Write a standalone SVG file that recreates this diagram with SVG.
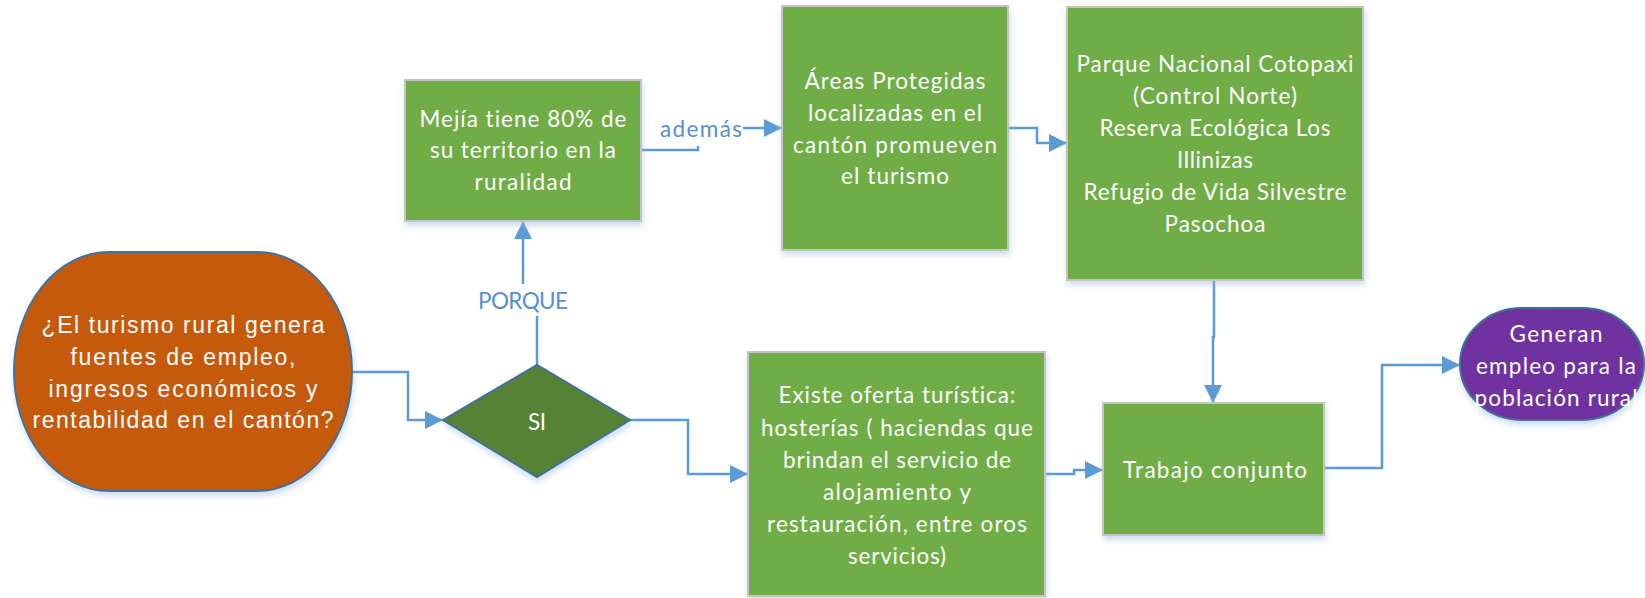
<svg xmlns="http://www.w3.org/2000/svg" width="1645" height="598" viewBox="0 0 1645 598">
  <style>
    .box { fill: #70AD47; stroke: #C4C4C4; stroke-width: 2; }
    .oval { fill: #C55A11; stroke: #41719C; stroke-width: 2; }
    .dia { fill: #548235; stroke: #41719C; stroke-width: 2; }
    .purp { fill: #7030A0; stroke: #41719C; stroke-width: 2; }
    .t { font-family: Lato, "Open Sans", sans-serif; font-size: 22.5px; fill: #FFFFFF; text-anchor: middle; font-variant-ligatures: none; }
    .ta { font-family: "Liberation Sans", Arial, sans-serif; font-size: 23px; fill: #FFFFFF; text-anchor: middle; }
    .lbl { font-family: Lato, "Open Sans", sans-serif; font-size: 22.5px; fill: #5590D0; text-anchor: middle; font-variant-ligatures: none; }
    .conn { fill: none; stroke: #5B9BD5; stroke-width: 2.5; marker-end: url(#arr); }
    .shadow { filter: url(#sh); }
  </style>
  <defs>
    <marker id="arr" viewBox="0 0 18 18" refX="18" refY="9" markerWidth="18" markerHeight="18" markerUnits="userSpaceOnUse" orient="auto">
      <path d="M0,0 L18,9 L0,18 z" fill="#5B9BD5"/>
    </marker>
    <filter id="sh" x="-10%" y="-10%" width="125%" height="125%">
      <feDropShadow dx="1" dy="4" stdDeviation="3" flood-color="#9DB9E0" flood-opacity="0.5"/>
    </filter>
  </defs>
  <rect width="1645" height="598" fill="#FFFFFF"/>

  <g id="connectors">
    <path class="conn" d="M352,372 H408 V420 H443"/>
    <path class="conn" d="M537,365 V300 H523 V221"/>
    <path class="conn" d="M641,150 H698 V128 H782"/>
    <path class="conn" d="M1008,128 H1037 V143 H1067"/>
    <path class="conn" d="M1214,280 V337 H1213 V403"/>
    <path class="conn" d="M630,420 H688 V474 H748"/>
    <path class="conn" d="M1045,474 H1074 V470 H1103"/>
    <path class="conn" d="M1324,468 H1382 V365 H1460"/>
    <g id="label-porque">
      <rect x="474" y="284" width="98" height="32" fill="#FFFFFF"/>
      <text class="lbl" x="523" y="309" textLength="90" lengthAdjust="spacing">PORQUE</text>
    </g>
    <g id="label-ademas">
      <rect x="657" y="117" width="86" height="29" fill="#FFFFFF"/>
      <text class="lbl" x="701" y="137" textLength="82" lengthAdjust="spacing">además</text>
    </g>
  </g>

  <g id="pregunta">
    <rect class="oval shadow" x="14" y="252" width="338" height="239" rx="95" ry="119.5"/>
    <text class="ta" x="183" y="333" textLength="283" lengthAdjust="spacing">¿El turismo rural genera</text>
    <text class="ta" x="183" y="365" textLength="225" lengthAdjust="spacing">fuentes de empleo,</text>
    <text class="ta" x="183" y="397" textLength="269" lengthAdjust="spacing">ingresos económicos y</text>
    <text class="ta" x="183" y="428" textLength="301" lengthAdjust="spacing">rentabilidad en el cantón?</text>
  </g>

  <g id="si">
    <polygon class="dia shadow" points="443,420 537,365 630,420 537,477"/>
    <text class="t" x="537" y="430" textLength="18" lengthAdjust="spacing">SI</text>
  </g>

  <g id="mejia">
    <rect class="box shadow" x="405" y="80" width="236" height="141"/>
    <text class="t" x="523" y="127" textLength="207" lengthAdjust="spacing">Mejía tiene 80% de</text>
    <text class="t" x="523" y="158" textLength="186" lengthAdjust="spacing">su territorio en la</text>
    <text class="t" x="523" y="190" textLength="97" lengthAdjust="spacing">ruralidad</text>
  </g>

  <g id="areas">
    <rect class="box shadow" x="782" y="6" width="226" height="244"/>
    <text class="t" x="895" y="89" textLength="181" lengthAdjust="spacing">Áreas Protegidas</text>
    <text class="t" x="895" y="121" textLength="174" lengthAdjust="spacing">localizadas en el</text>
    <text class="t" x="895" y="153" textLength="204" lengthAdjust="spacing">cantón promueven</text>
    <text class="t" x="895" y="184" textLength="108" lengthAdjust="spacing">el turismo</text>
  </g>

  <g id="parques">
    <rect class="box shadow" x="1067" y="7" width="296" height="273"/>
    <text class="t" x="1215" y="72" textLength="277" lengthAdjust="spacing">Parque Nacional Cotopaxi</text>
    <text class="t" x="1215" y="104" textLength="164" lengthAdjust="spacing">(Control Norte)</text>
    <text class="t" x="1215" y="136" textLength="231" lengthAdjust="spacing">Reserva Ecológica Los</text>
    <text class="t" x="1215" y="168" textLength="76" lengthAdjust="spacing">Illinizas</text>
    <text class="t" x="1215" y="200" textLength="263" lengthAdjust="spacing">Refugio de Vida Silvestre</text>
    <text class="t" x="1215" y="232" textLength="101" lengthAdjust="spacing">Pasochoa</text>
  </g>

  <g id="oferta">
    <rect class="box shadow" x="748" y="352" width="297" height="244"/>
    <text class="t" x="897" y="403" textLength="237" lengthAdjust="spacing">Existe oferta turística:</text>
    <text class="t" x="897" y="436" textLength="272" lengthAdjust="spacing">hosterías ( haciendas que</text>
    <text class="t" x="897" y="468" textLength="228" lengthAdjust="spacing">brindan el servicio de</text>
    <text class="t" x="897" y="500" textLength="148" lengthAdjust="spacing">alojamiento y</text>
    <text class="t" x="897" y="532" textLength="260" lengthAdjust="spacing">restauración, entre oros</text>
    <text class="t" x="897" y="564" textLength="98" lengthAdjust="spacing">servicios)</text>
  </g>

  <g id="trabajo">
    <rect class="box shadow" x="1103" y="403" width="221" height="132"/>
    <text class="t" x="1215" y="478" textLength="184" lengthAdjust="spacing">Trabajo conjunto</text>
  </g>

  <g id="empleo">
    <rect class="purp shadow" x="1460" y="308" width="184" height="112" rx="62" ry="56"/>
    <text class="t" x="1556" y="342" textLength="93" lengthAdjust="spacing">Generan</text>
    <text class="t" x="1556" y="374" textLength="160" lengthAdjust="spacing">empleo para la</text>
    <text class="t" x="1556" y="406" textLength="163" lengthAdjust="spacing">población rural</text>
  </g>
</svg>
